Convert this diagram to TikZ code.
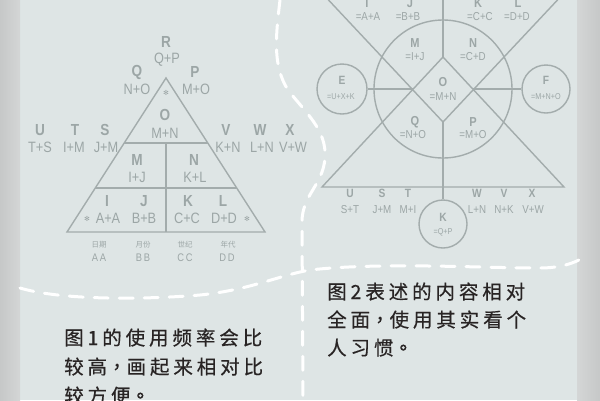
\documentclass[tikz,border=0pt]{standalone}
\usepackage{fontspec}
\newfontfamily\lab[FakeStretch=0.85]{Liberation Sans}
\newfontfamily\cjk[LetterSpace=20, FakeBold=0.5]{Noto Sans CJK SC}
\newfontfamily\cjktc[LetterSpace=20, FakeBold=0.5]{Noto Sans CJK TC}
\newfontfamily\cjksmall{Noto Sans CJK SC}
\newfontfamily\sym{DejaVu Sans}
\definecolor{panel}{RGB}{222,229,229}
\definecolor{stripA}{RGB}{198,200,200}
\definecolor{stripB}{RGB}{212,214,214}
\definecolor{labgray}{RGB}{156,166,166}
\definecolor{linegray}{RGB}{163,172,172}
\definecolor{ink}{RGB}{40,36,36}
\tikzset{
  ln/.style={draw=linegray, line width=1.4pt, line join=miter},
  dashw/.style={draw=white, line width=3pt, dash pattern=on 14pt off 11pt, line cap=round},
  big/.style={font=\lab\bfseries\fontsize{16}{16}\selectfont, text=labgray, inner sep=0pt},
  frm/.style={font=\lab\fontsize{15}{15}\selectfont, text=labgray, inner sep=0pt},
  bigB/.style={font=\lab\bfseries\fontsize{13}{13}\selectfont, text=labgray, inner sep=0pt},
  letB/.style={font=\lab\bfseries\fontsize{12}{12}\selectfont, text=labgray, inner sep=0pt},
  frmB/.style={font=\lab\fontsize{11.5}{11.5}\selectfont, text=labgray, inner sep=0pt},
  frmC/.style={font=\lab\fontsize{8.5}{8.5}\selectfont, text=labgray, inner sep=0pt},
  tiny/.style={font=\cjksmall\fontsize{7.5}{7.5}\selectfont, text=labgray, inner sep=0pt},
  aa/.style={font=\lab\fontsize{11}{11}\selectfont, text=labgray, inner sep=0pt},
  star/.style={font=\sym\fontsize{7}{7}\selectfont, text=labgray, inner sep=0pt},
  ring/.style={circle, draw=linegray, line width=1.4pt, inner sep=0pt},
  note/.style={font=\cjk\fontsize{19.5}{29}\selectfont, text=ink, inner sep=0pt, anchor=base west}
}
\newcommand{\pc}[1]{{\cjktc #1}}
\begin{document}
\begin{tikzpicture}[x=1pt,y=-1pt]
\useasboundingbox (0,0) rectangle (600,400);
\fill[panel] (0,0) rectangle (600,400);
\shade[left color=stripA, right color=stripB] (0,0) rectangle (20,400);
\shade[left color=stripB, right color=stripA] (577,0) rectangle (600,400);

% ---------- figure 1 ----------
\coordinate (tA) at (166,78);
\coordinate (tL) at (67,232);
\coordinate (tR) at (265,232);
\draw[ln] (tA) -- (tL) -- (tR) -- cycle;
\draw[ln] (124.2,143) -- (207.8,143);
\draw[ln] (95.3,188) -- (236.7,188);
\draw[ln] (166,143) -- (166,232);

\node[big] (R) at (166,42) {R};
\node[frm] (RQP) at (167,60) {Q+P};
\node[big] (Q) at (137,72) {Q};
\node[frm] (QNO) at (137,89) {N+O};
\node[big] (P) at (195,72) {P};
\node[frm] (PMO) at (196,89) {M+O};
\node[star] (st0) at (166,93) {✻};
\node[big] (O) at (165,115) {O};
\node[frm] (OMN) at (165,133) {M+N};
\node[big] (U) at (40,130) {U};
\node[frm] (UTS) at (40,147) {T+S};
\node[big] (T) at (75,130) {T};
\node[frm] (TIM) at (74,147) {I+M};
\node[big] (S) at (105,130) {S};
\node[frm] (SJM) at (106,147) {J+M};
\node[big] (V) at (226,130) {V};
\node[frm] (VKN) at (228,147) {K+N};
\node[big] (W) at (260,130) {W};
\node[frm] (WLN) at (262,147) {L+N};
\node[big] (X) at (290,130) {X};
\node[frm] (XVW) at (293,147) {V+W};
\node[big] (M) at (137,160) {M};
\node[frm] (MIJ) at (137,177) {I+J};
\node[big] (N) at (194,160) {N};
\node[frm] (NKL) at (195,177) {K+L};
\node[big] (I) at (107,201) {I};
\node[big] (J) at (144,201) {J};
\node[big] (K) at (188,201) {K};
\node[big] (L) at (223,201) {L};
\node[star] (st1) at (87,219) {✻};
\node[frm] (IAA) at (108,218) {A+A};
\node[frm] (JBB) at (144,218) {B+B};
\node[frm] (KCC) at (187,218) {C+C};
\node[frm] (LDD) at (224,218) {D+D};
\node[star] (st2) at (247,219) {✻};
\node[tiny] (c1) at (99,245) {日期};
\node[tiny] (c2) at (143,245) {月份};
\node[tiny] (c3) at (185,245) {世纪};
\node[tiny] (c4) at (228,245) {年代};
\node[aa] (a1) at (99,258) {A\,A};
\node[aa] (a2) at (143,258) {B\,B};
\node[aa] (a3) at (185,258) {C\,C};
\node[aa] (a4) at (227,258) {D\,D};

% ---------- figure 2 ----------
\begin{scope}
\clip (20,0) rectangle (577,400);
\coordinate (uA) at (443,57);
\coordinate (uL) at (322,187);
\coordinate (uR) at (564,187);
\coordinate (dA) at (443,122);
\coordinate (dL) at (321,-8);
\coordinate (dR) at (565,-8);
\coordinate (mL) at (412.6,89);
\coordinate (mR) at (473.4,89);
\coordinate (top) at (443,-2);
\draw[ln] (uA) -- (uL) -- (uR) -- cycle;
\draw[ln] (dL) -- (dA) -- (dR);
\draw[ln] (443,89) circle[radius=69];
\node[ring, minimum size=50pt] (Ec) at (342,89) {};
\node[ring, minimum size=48pt] (Fc) at (546,89) {};
\node[ring, minimum size=48pt] (Kc) at (443,224) {};
\draw[ln] (Ec.east) -- (mL);
\draw[ln] (mR) -- (Fc.west);
\draw[ln] (top) -- (uA);
\draw[ln] (dA) -- (Kc.north);

\node[bigB] (I2) at (367,3) {I};
\node[frmB] (I2f) at (368,17) {=A+A};
\node[bigB] (J2) at (410,3) {J};
\node[frmB] (J2f) at (408,17) {=B+B};
\node[bigB] (K2) at (478,3) {K};
\node[frmB] (K2f) at (480,17) {=C+C};
\node[bigB] (L2) at (518,3) {L};
\node[frmB] (L2f) at (517,17) {=D+D};
\node[bigB] (M2) at (415,43) {M};
\node[frmB] (M2f) at (415,57) {=I+J};
\node[bigB] (N2) at (473,43) {N};
\node[frmB] (N2f) at (473,57) {=C+D};
\node[bigB] (O2) at (443,82) {O};
\node[frmB] (O2f) at (443,97) {=M+N};
\node[bigB] (Q2) at (415,122) {Q};
\node[frmB] (Q2f) at (413,135) {=N+O};
\node[bigB] (P2) at (473,122) {P};
\node[frmB] (P2f) at (473,135) {=M+O};
\node[letB] (E2) at (342,80) {E};
\node[frmC] (E2f) at (341,97) {=U+X+K};
\node[letB] (F2) at (546,80) {F};
\node[frmC] (F2f) at (546,97) {=M+N+O};
\node[letB] (K3) at (443,217) {K};
\node[frmC] (K3f) at (443,232) {=Q+P};
\node[letB] (U2) at (350,193) {U};
\node[frmB] (U2f) at (350,210) {S+T};
\node[letB] (S2) at (382,193) {S};
\node[frmB] (S2f) at (382,210) {J+M};
\node[letB] (T2) at (408,193) {T};
\node[frmB] (T2f) at (408,210) {M+I};
\node[letB] (W2) at (477,193) {W};
\node[frmB] (W2f) at (477,210) {L+N};
\node[letB] (V2) at (504,193) {V};
\node[frmB] (V2f) at (504,210) {N+K};
\node[letB] (X2) at (532,193) {X};
\node[frmB] (X2f) at (533,210) {V+W};
\end{scope}

% ---------- dashed separators ----------
\draw[dashw] (280,0) .. controls (276,35) and (272,65) .. (288,90)
  .. controls (305,112) and (327,130) .. (325,158)
  .. controls (323,185) and (302,195) .. (302,222) -- (303,402);
\draw[dashw] (20,288) .. controls (60,300) and (140,300) .. (200,295)
  .. controls (250,290) and (280,275) .. (310,270)
  .. controls (380,262) and (480,268) .. (540,268)
  .. controls (560,268) and (575,263) .. (582,258);

% ---------- notes ----------
\node[note] (t1a) at (64,345) {图1的使用频率会比};
\node[note] (t1b) at (64,374) {较高\pc{，}画起来相对比};
\node[note] (t1c) at (64,403) {较方便\pc{。}};
\node[note] (t2a) at (327,299) {图2表述的内容相对};
\node[note] (t2b) at (327,327) {全面\pc{，}使用其实看个};
\node[note] (t2c) at (327,355) {人习惯\pc{。}};
\end{tikzpicture}
\end{document}
